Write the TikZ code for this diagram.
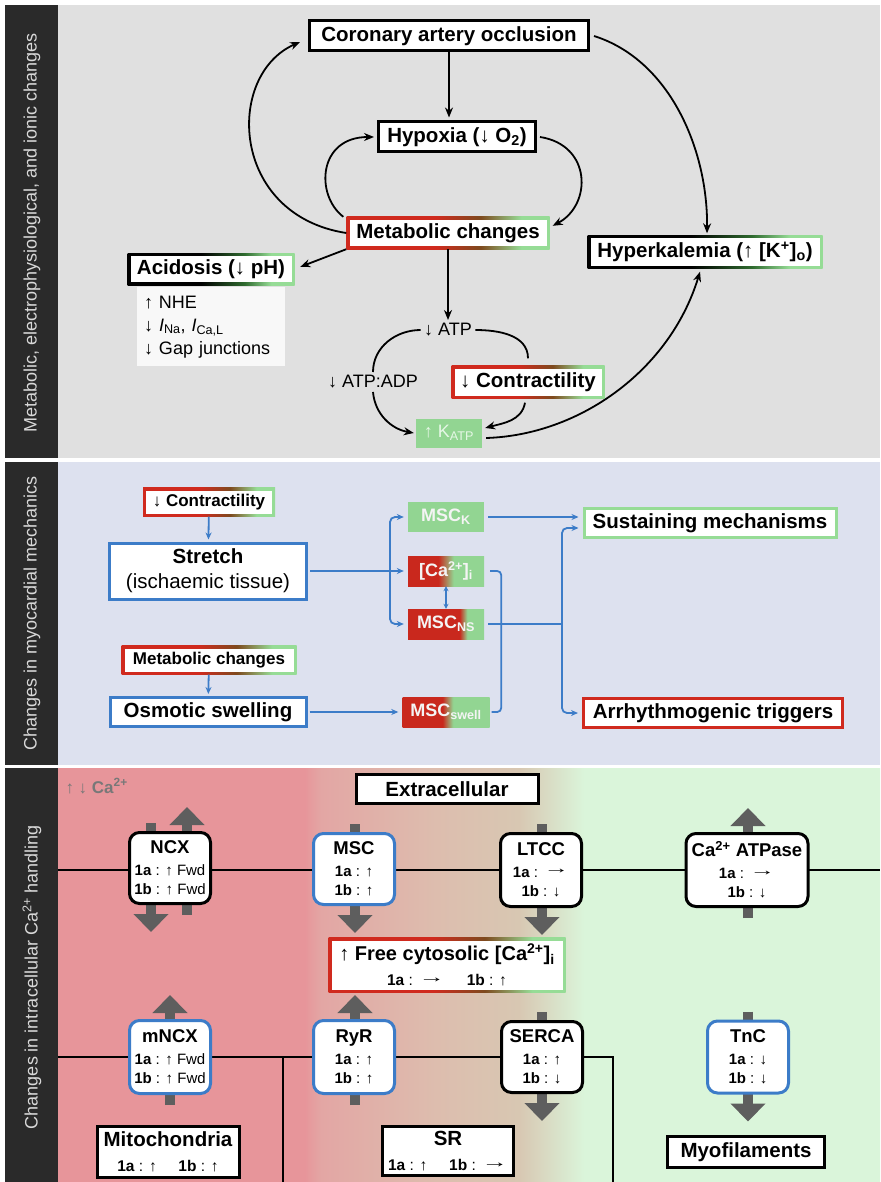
\documentclass[tikz,border=0pt]{standalone}
\usepackage{fontspec}
\setmainfont{Liberation Sans}
\usetikzlibrary{arrows.meta,positioning}

\pgfdeclarelayer{panels}
\pgfdeclarelayer{under}
\pgfsetlayers{panels,under,main}

\definecolor{panelgrey}{HTML}{E0E0E0}
\definecolor{panelblue}{HTML}{DDE1EF}
\definecolor{stripdark}{HTML}{2A2A2A}
\definecolor{striptext}{HTML}{D8D8D8}
\definecolor{mred}{HTML}{D02A1E}
\definecolor{mgreen}{HTML}{96DC96}
\definecolor{mbrown}{HTML}{7E4A1E}
\definecolor{dgreen}{HTML}{2F6B2F}
\definecolor{mblue}{HTML}{3C7CC8}
\definecolor{fred}{HTML}{C9281D}
\definecolor{fgreen}{HTML}{92D592}
\definecolor{katptext}{HTML}{E6F7E6}
\definecolor{mscwhite}{HTML}{F4F4F4}
\definecolor{fluxgrey}{HTML}{5E5E5E}
\definecolor{cagrey}{HTML}{787878}
\definecolor{listwhite}{HTML}{F8F8F8}
\definecolor{cpink}{HTML}{E7959A}
\definecolor{cpinklight}{HTML}{E3A6A4}
\definecolor{ctan}{HTML}{DDBDAE}
\definecolor{ckhaki}{HTML}{D8C7B2}
\definecolor{cmint}{HTML}{DAF5DA}

\pgfdeclarehorizontalshading{redgreen}{100bp}{color(0bp)=(mred); color(25bp)=(mred); color(47bp)=(mred); color(58bp)=(mbrown); color(68bp)=(mgreen); color(100bp)=(mgreen)}
\pgfdeclarehorizontalshading{blackgreen}{100bp}{color(0bp)=(black); color(25bp)=(black); color(47bp)=(black); color(60bp)=(dgreen); color(68bp)=(mgreen); color(100bp)=(mgreen)}
\pgfdeclarehorizontalshading{cafill}{100bp}{color(0bp)=(fred); color(25bp)=(fred); color(45bp)=(fred); color(55bp)=(fgreen); color(100bp)=(fgreen)}
\pgfdeclarehorizontalshading{nsfill}{100bp}{color(0bp)=(fred); color(25bp)=(fred); color(59bp)=(fred); color(64bp)=(fgreen); color(100bp)=(fgreen)}
\pgfdeclarehorizontalshading{swfill}{100bp}{color(0bp)=(fred); color(25bp)=(fred); color(48bp)=(fred); color(54bp)=(fgreen); color(100bp)=(fgreen)}
\pgfdeclarehorizontalshading{cytobg}{100bp}{color(0bp)=(cpink); color(25bp)=(cpink); color(40bp)=(cpink); color(41bp)=(cpinklight); color(48bp)=(ctan); color(53bp)=(ckhaki); color(57bp)=(cmint); color(100bp)=(cmint)}

\newcommand{\fHead}{\fontsize{20.5}{25}\selectfont\bfseries}
\newcommand{\fReg}{\fontsize{18}{23}\selectfont}
\newcommand{\fSmall}{\fontsize{17}{20}\selectfont\bfseries}
\newcommand{\fProt}{\fontsize{18.5}{22}\selectfont\bfseries}
\newcommand{\fLine}{\fontsize{15}{19.5}\selectfont}
\newcommand{\fStrip}{\fontsize{18}{20}\selectfont}
\newcommand{\fMsc}{\fontsize{18}{20}\selectfont\bfseries}
\newcommand{\rarr}{\raisebox{0.22em}{\scalebox{1.7}[1]{→}}}
\newcommand{\abline}[2]{\textbf{1a} : #1\\\textbf{1b} : #2}
\newcommand{\abpair}[2]{{\fontsize{15.5}{18}\selectfont\mdseries\textbf{1a} : #1\hspace{1.4em}\textbf{1b} : #2}}

\tikzset{
  karr/.style={line width=1.8pt, -{Stealth[length=10pt,width=8pt]}},
  kline/.style={line width=1.8pt},
  barr/.style={draw=mblue, line width=1.8pt, -{Stealth[length=7pt,width=6pt]}},
  bline/.style={draw=mblue, line width=1.8pt},
  flux/.style={draw=fluxgrey, line width=10pt, -{Triangle[width=34pt,length=18pt]}},
  memb/.style={line width=2.6pt},
  blackbox/.style={draw, line width=3pt, fill=white, font=\fHead, inner sep=1pt, minimum height=30pt},
  colbox/.style={draw=#1, line width=3pt, fill=white, font=\fHead, inner sep=1pt, minimum height=30pt, align=center},
  gradbox/.style={shade, shading=#1, font=\fHead, inner sep=1pt, minimum height=32pt, align=center,
    path picture={\fill[white] ([shift={(3pt,-3pt)}]path picture bounding box.north west) rectangle ([shift={(-3pt,3pt)}]path picture bounding box.south east);}},
  mscbox/.style={text=mscwhite, font=\fMsc, minimum width=76pt, minimum height=30pt, inner sep=1pt},
  listbox/.style={fill=listwhite, font=\fReg, text width=134pt, align=left, inner xsep=7pt, minimum height=79pt},
  prot/.style={draw=#1, line width=3pt, rounded corners=10pt, fill=white, font=\fLine, align=center, minimum width=81pt, minimum height=71pt, inner sep=1pt},
  prot/.default=black,
  striplabel/.style={rotate=90, text=striptext, font=\fStrip},
}

\begin{document}
\begin{tikzpicture}[x=1pt,y=-1pt]
\useasboundingbox (0,0) rectangle (880,1182);

% panels
\begin{pgfonlayer}{panels}
  \fill[white] (0,0) rectangle (880,1182);
  \fill[stripdark] (5,5) rectangle (58,458);
  \fill[stripdark] (5,462) rectangle (58,765);
  \fill[stripdark] (5,768) rectangle (58,1182);
  \fill[panelgrey] (58,5) rectangle (880,458);
  \fill[panelblue] (58,462) rectangle (880,765);
  \shade[shading=cytobg] (58,768) rectangle (880,1182);
\end{pgfonlayer}

\node[striplabel] (labmeta) at (32,233) {Metabolic, electrophysiological, and ionic changes};
\node[striplabel] (labmech) at (32,613) {Changes in myocardial mechanics};
\node[striplabel] (labca) at (32,977) {Changes in intracellular Ca\textsuperscript{2+} handling};

% metabolic panel
\node[blackbox, minimum width=279pt] (occl) at (449,36) {Coronary artery occlusion};
\node[blackbox, minimum width=157pt] (hyp) at (457,137) {Hypoxia (↓ O\textsubscript{2})};
\node[gradbox=redgreen, minimum width=203pt] (meta) at (448,233) {Metabolic changes};
\node[gradbox=blackgreen, minimum width=167pt] (acid) at (211,269) {Acidosis (↓ pH)};
\node[listbox, below=2pt of acid] (acidlist) {↑ NHE\\↓ \textit{I}\textsubscript{Na}, \textit{I}\textsubscript{Ca,L}\\↓ Gap junctions};
\node[gradbox=blackgreen, minimum width=235pt, minimum height=33pt] (hk) at (705,252) {Hyperkalemia (↑ [K\textsuperscript{+}]\textsubscript{o})};
\node[font=\fReg] (atp) at (448,330) {↓ ATP};
\node[font=\fReg] (adp) at (373,382) {↓ ATP:ADP};
\node[gradbox=redgreen, minimum width=153pt, minimum height=33pt] (contr) at (528,382) {↓ Contractility};
\node[fill=fgreen, text=katptext, font=\fReg, minimum width=66pt, minimum height=29pt, inner sep=1pt] (katp) at (449,433) {↑ K\textsubscript{ATP}};

\draw[karr, shorten >=3pt] (occl.south) -- (occl.south |- hyp.north);
\draw[karr] (meta.west) .. controls (230,215) and (225,75) .. ([xshift=-8pt,yshift=-6pt]occl.west);
\draw[karr] ([xshift=-3pt]meta.north west) .. controls (315,195) and (318,137) .. ([xshift=-3pt]hyp.west);
\draw[karr] ([xshift=3pt]hyp.east) .. controls (592,145) and (592,205) .. ([xshift=3pt,yshift=-9pt]meta.north east);
\draw[karr] ([xshift=4pt]occl.east) .. controls (670,60) and (708,150) .. ([xshift=2pt,yshift=2pt]hk.north);
\draw[karr, shorten >=6pt] (meta.south west) -- (acid.east);
\draw[karr] (meta.south) -- (atp.north);
\draw[kline] (atp.west) to[out=180,in=90] (adp.north);
\draw[karr] (adp.south) to[out=-85,in=170] ([xshift=-2pt]katp.west);
\draw[kline] (atp.east) to[out=0,in=90] ([yshift=7pt]contr.north);
\draw[karr] ([xshift=-3pt,yshift=-4pt]contr.south) to[out=-100,in=15] ([xshift=3pt,yshift=5pt]katp.east);
\draw[karr] ([xshift=4pt,yshift=-5pt]katp.east) .. controls (580,435) and (670,370) .. ([xshift=-5pt,yshift=-3pt]hk.south);

% mechanics panel
\node[gradbox=redgreen, font=\fSmall, minimum width=132pt, minimum height=29pt] (cont2) at (209,502) {↓ Contractility};
\node[colbox=mblue, font=\fontsize{20.5}{25}\selectfont, minimum width=197pt, minimum height=56pt] (stretch) at (208,571) {\textbf{Stretch}\\(ischaemic tissue)};
\node[gradbox=redgreen, font=\fSmall, minimum width=175pt, minimum height=29pt] (meta2) at (209,660) {Metabolic changes};
\node[colbox=mblue, minimum width=196pt, minimum height=29pt] (osmo) at (208,712) {Osmotic swelling};
\node[mscbox, fill=fgreen] (mscK) at (446,517) {MSC\textsubscript{K}};
\node[mscbox, shade, shading=cafill] (ca) at (446,571) {[Ca\textsuperscript{2+}]\textsubscript{i}};
\node[mscbox, shade, shading=nsfill] (ns) at (446,624) {MSC\textsubscript{NS}};
\node[mscbox, shade, shading=swfill, minimum width=87pt] (swell) at (446,712) {MSC\textsubscript{swell}};
\node[colbox=mgreen, minimum width=252pt, minimum height=29pt] (sust) at (710,523) {Sustaining mechanisms};
\node[colbox=mred, minimum width=259pt, minimum height=29pt] (arr) at (713,713) {Arrhythmogenic triggers};

\coordinate (brS) at (390,571);
\coordinate (brN) at (562,624);
\draw[barr, shorten >=2pt] (cont2) -- (stretch);
\draw[barr, shorten >=2pt] (meta2) -- (osmo);
\draw[barr, shorten >=4pt] ([xshift=2pt]stretch.east) -- (ca.west);
\draw[barr, rounded corners=5pt, shorten >=4pt] (brS) |- (mscK.west);
\draw[barr, rounded corners=5pt, shorten >=4pt] (brS) |- (ns.west);
\draw[barr, shorten >=4pt] ([xshift=2pt]osmo.east) -- (swell.west);
\draw[bline, {Stealth[length=5pt,width=5pt]}-{Stealth[length=5pt,width=5pt]}] (ca) -- (ns);
\draw[bline, rounded corners=4pt] ([xshift=6pt]ca.east) -- ++(11,0) |- ([xshift=2pt]swell.east);
\draw[bline] ([xshift=4pt]ns.east) -- (brN);
\draw[barr, rounded corners=5pt, shorten >=4pt] (brN) |- ([yshift=-5pt]sust.west);
\draw[barr, rounded corners=5pt, shorten >=4pt] (brN) |- (arr.west);
\draw[barr, shorten >=4pt] ([xshift=4pt]mscK.east) -- (mscK.east -| sust.west);

% Ca handling panel
\node[font=\fSmall, text=cagrey, anchor=west] (calab) at (62,786) {↑ ↓ Ca\textsuperscript{2+}};
\node[blackbox, minimum width=182pt, minimum height=29pt] (extra) at (447,789) {Extracellular};
\node[prot] (ncx) at (170,868) {{\fProt NCX}\\[2pt]\abline{↑ Fwd}{↑ Fwd}};
\node[prot=mblue] (msc) at (354,869) {{\fProt MSC}\\[2pt]\abline{↑}{↑}};
\node[prot, minimum height=73pt] (ltcc) at (541,870) {{\fProt LTCC}\\[2pt]\abline{\rarr}{↓}};
\node[prot, minimum width=122pt, minimum height=73pt] (atpase) at (747,870) {{\fProt Ca\textsuperscript{2+} ATPase}\\[2pt]\abline{\rarr}{↓}};
\node[gradbox=redgreen, minimum width=237pt, minimum height=55pt] (free) at (447,965) {{\fontsize{20}{24}\selectfont ↑ Free cytosolic [Ca\textsuperscript{2+}]\textsubscript{i}}\\\abpair{\rarr}{↑}};
\node[prot=mblue, minimum height=73pt] (mncx) at (170,1057) {{\fProt mNCX}\\[2pt]\abline{↑ Fwd}{↑ Fwd}};
\node[prot=mblue, minimum height=73pt] (ryr) at (354,1057) {{\fProt RyR}\\[2pt]\abline{↑}{↑}};
\node[prot] (serca) at (542,1057) {{\fProt SERCA}\\[2pt]\abline{↑}{↓}};
\node[prot=mblue, minimum height=72pt] (tnc) at (748,1057) {{\fProt TnC}\\[2pt]\abline{↓}{↓}};
\node[blackbox, minimum width=142pt, minimum height=51pt, align=center] (mito) at (168,1152) {Mitochondria\\\abpair{↑}{↑}};
\node[blackbox, minimum width=131pt, minimum height=49pt, align=center] (sr) at (448,1151) {SR\\\abpair{↑}{\rarr}};
\node[blackbox, minimum width=157pt, minimum height=31pt] (myo) at (746,1152) {Myofilaments};

\begin{pgfonlayer}{under}
  \draw[memb] (58,870) -- (880,870);
  \draw[memb] (58,1057) -- (613,1057) -- (613,1182);
  \draw[memb] (283,1057) -- (283,1182);
  \foreach \p/\dx in {ncx/-19,msc/1,ltcc/1,serca/0,tnc/0}{
    \draw[flux] ([xshift=\dx pt,yshift=8pt]\p.north) -- ([xshift=\dx pt,yshift=-27pt]\p.south);
  }
  \foreach \p/\dx in {ncx/17,atpase/1,mncx/0,ryr/1}{
    \draw[flux] ([xshift=\dx pt,yshift=-10pt]\p.south) -- ([xshift=\dx pt,yshift=24pt]\p.north);
  }
\end{pgfonlayer}
\end{tikzpicture}
\end{document}
